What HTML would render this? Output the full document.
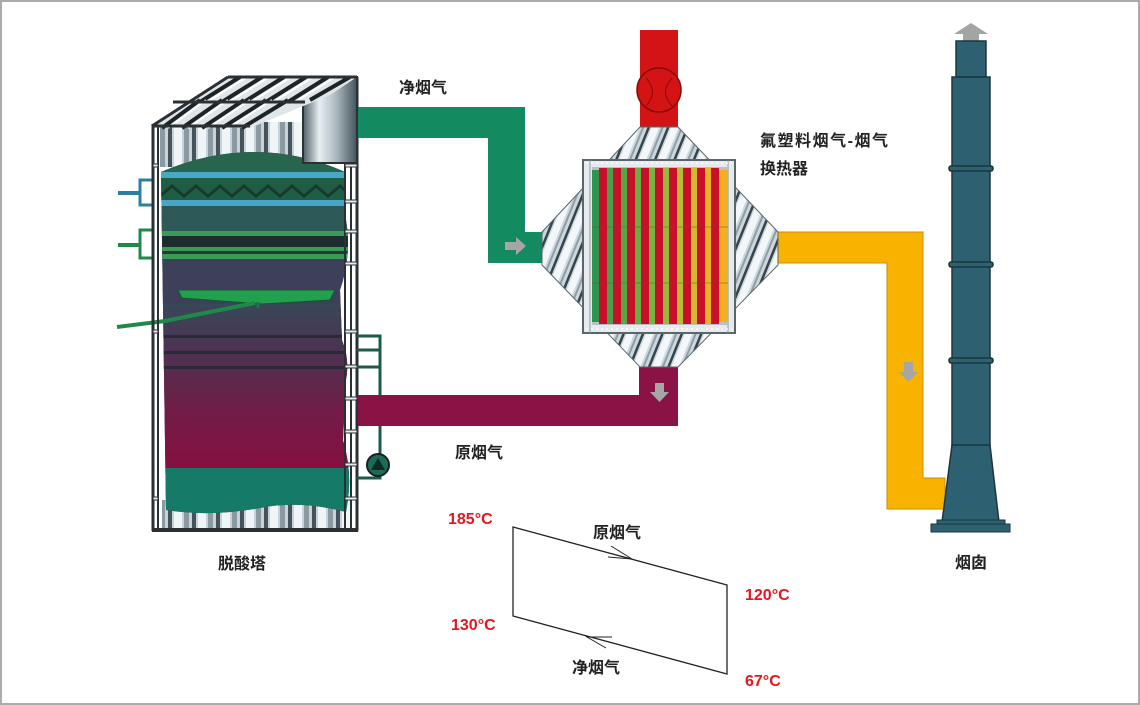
<!DOCTYPE html>
<html><head><meta charset="utf-8"><style>
html,body{margin:0;padding:0;background:#fff;}
.wrap{position:relative;width:1140px;height:705px;box-sizing:border-box;border:2px solid #ababab;overflow:hidden;background:#fff;}
svg{position:absolute;left:-2px;top:-2px;}
text{font-family:"Liberation Sans","Noto Sans CJK SC",sans-serif;font-weight:bold;}
</style></head><body><div class="wrap">
<svg width="1140" height="705" viewBox="0 0 1140 705" xmlns="http://www.w3.org/2000/svg">
<defs>
 <linearGradient id="silv" x1="0" x2="1" y1="0" y2="0">
  <stop offset="0" stop-color="#4e5e66"/><stop offset="0.3" stop-color="#e6eef2"/><stop offset="0.6" stop-color="#aebbc2"/><stop offset="1" stop-color="#44545c"/>
 </linearGradient>
 <pattern id="cyl" width="24" height="40" patternUnits="userSpaceOnUse">
  <rect width="24" height="40" fill="#c8d2d8"/><rect x="0" width="4" height="40" fill="#44545c"/><rect x="6" width="8" height="40" fill="#f0f5f7"/><rect x="16" width="5" height="40" fill="#8a9aa2"/>
 </pattern>
 <pattern id="hx" width="18" height="18" patternUnits="userSpaceOnUse" patternTransform="rotate(22)">
  <rect width="18" height="18" fill="#ccd6dc"/><rect x="0" width="2.5" height="18" fill="#34444c"/><rect x="4" width="7" height="18" fill="#f3f7f9"/><rect x="13" width="2" height="18" fill="#8e9ea6"/>
 </pattern>
 <linearGradient id="body" x1="0" x2="0" y1="0" y2="1">
  <stop offset="0" stop-color="#384858"/><stop offset="0.25" stop-color="#4a3452"/><stop offset="0.6" stop-color="#6e1e48"/><stop offset="1" stop-color="#8a0e3e"/>
 </linearGradient>
 <clipPath id="tc"><path d="M161,172 Q255,132 345,172 L346,220 Q352,255 340,290 L342,340 Q350,360 346,380 L343,440 Q352,470 348,500 L346,512 Q300,500 260,508 Q210,517 166,510 Z"/></clipPath>
</defs>

<!-- ===== Tower ===== -->
<rect x="162" y="500" width="188" height="28" fill="url(#cyl)"/>
<rect x="160" y="122" width="145" height="45" fill="url(#cyl)"/>
<g clip-path="url(#tc)">
 <rect x="150" y="130" width="210" height="390" fill="url(#body)"/>
 <rect x="150" y="130" width="210" height="130" fill="#2c5e52"/>
 <rect x="150" y="130" width="210" height="42" fill="#27654c"/>
 <rect x="150" y="172" width="210" height="6" fill="#48a8c8"/>
 <rect x="150" y="178" width="210" height="22" fill="#1f5e44"/>
 <path d="M160,196 l12,-10 l12,10 l12,-10 l12,10 l12,-10 l12,10 l12,-10 l12,10 l12,-10 l12,10 l12,-10 l12,10 l12,-10 l12,10 l12,-10 l12,10" fill="none" stroke="#173a2c" stroke-width="3"/>
 <rect x="150" y="200" width="210" height="6" fill="#4aa6c6"/>
 <rect x="150" y="206" width="210" height="26" fill="#2d5a58"/>
 <rect x="150" y="231" width="210" height="5" fill="#3a9a58"/>
 <rect x="150" y="236" width="210" height="11" fill="#1d2c2c"/>
 <rect x="150" y="247" width="210" height="4" fill="#3a9a58"/>
 <rect x="150" y="251" width="210" height="3" fill="#243a34"/>
 <rect x="150" y="254" width="210" height="5" fill="#3a9a58"/>
 <rect x="150" y="259" width="210" height="45" fill="#3e3f58"/>
 <rect x="150" y="304" width="210" height="170" fill="url(#body)"/>
 <rect x="150" y="335" width="210" height="3" fill="#2a2a36"/>
 <rect x="150" y="351" width="210" height="3" fill="#2a2a36"/>
 <rect x="150" y="366" width="210" height="3" fill="#2a2a36"/>
 <rect x="150" y="468" width="210" height="60" fill="#157a68"/>
</g>
<polygon points="178,290 335,290 330,300 262,304 182,298" fill="#22a050" stroke="#145a30" stroke-width="1"/>
<line x1="258" y1="302" x2="258" y2="308" stroke="#1a7a3a" stroke-width="3"/>
<polyline points="117,327 165,321 255,303" fill="none" stroke="#1f8a48" stroke-width="4"/>
<polyline points="118,193 140,193" stroke="#2c7fa0" stroke-width="4" fill="none"/>
<polyline points="152,180 140,180 140,205 152,205" stroke="#2c7fa0" stroke-width="3" fill="none"/>
<polyline points="118,245 140,245" stroke="#1f8a48" stroke-width="4" fill="none"/>
<polyline points="152,230 140,230 140,258 152,258" stroke="#1f8a48" stroke-width="3" fill="none"/>
<g stroke="#2a3034" fill="none">
 <line x1="153" y1="124" x2="153" y2="531" stroke-width="3"/>
 <line x1="158" y1="124" x2="158" y2="531" stroke-width="2"/>
 <line x1="345" y1="163" x2="345" y2="531" stroke-width="2"/>
 <line x1="351" y1="163" x2="351" y2="531" stroke-width="2"/>
 <line x1="357" y1="77" x2="357" y2="531" stroke-width="3"/>
 <line x1="152" y1="530" x2="358" y2="530" stroke-width="4"/>
</g>
<g fill="#e8eef0" stroke="#2a3034" stroke-width="1">
 <rect x="345" y="164" width="12" height="3"/><rect x="345" y="200" width="12" height="3"/><rect x="345" y="230" width="12" height="3"/>
 <rect x="345" y="262" width="12" height="3"/><rect x="345" y="330" width="12" height="3"/><rect x="345" y="365" width="12" height="3"/>
 <rect x="345" y="397" width="12" height="3"/><rect x="345" y="430" width="12" height="3"/><rect x="345" y="463" width="12" height="3"/>
 <rect x="345" y="497" width="12" height="3"/>
 <rect x="153" y="164" width="5" height="3"/><rect x="153" y="330" width="5" height="3"/><rect x="153" y="497" width="5" height="3"/>
</g>
<rect x="303" y="77" width="54" height="86" fill="url(#silv)" stroke="#2a3034" stroke-width="2"/>
<polygon points="152,126 228,77 357,77 330,95 250,128" fill="#dfe5e8"/>
<g stroke="#1e2326" stroke-width="4">
 <line x1="162" y1="128" x2="200" y2="100"/><line x1="182" y1="128" x2="222" y2="100"/><line x1="202" y1="128" x2="244" y2="100"/><line x1="222" y1="128" x2="266" y2="100"/><line x1="242" y1="128" x2="288" y2="100"/>
 <line x1="200" y1="102" x2="240" y2="77"/><line x1="222" y1="102" x2="262" y2="77"/><line x1="244" y1="102" x2="284" y2="77"/><line x1="266" y1="102" x2="306" y2="77"/><line x1="288" y1="102" x2="328" y2="77"/><line x1="310" y1="100" x2="350" y2="77"/>
</g>
<g stroke="#ffffff" stroke-width="2">
 <line x1="168" y1="128" x2="206" y2="100"/><line x1="188" y1="128" x2="228" y2="100"/><line x1="208" y1="128" x2="250" y2="100"/><line x1="228" y1="128" x2="272" y2="100"/>
 <line x1="207" y1="102" x2="247" y2="77"/><line x1="229" y1="102" x2="269" y2="77"/><line x1="251" y1="102" x2="291" y2="77"/><line x1="273" y1="102" x2="313" y2="77"/><line x1="295" y1="102" x2="335" y2="77"/>
</g>
<g stroke="#2a3034" stroke-width="3">
 <line x1="228" y1="77" x2="357" y2="77"/><line x1="173" y1="102" x2="305" y2="102"/><line x1="152" y1="126" x2="250" y2="126"/>
 <line x1="228" y1="77" x2="152" y2="126"/>
</g>
<g stroke="#1c5a4a" stroke-width="3" fill="none">
 <polyline points="357,336 380,336 380,478 357,478"/>
 <line x1="357" y1="350" x2="380" y2="350"/><line x1="357" y1="367" x2="380" y2="367"/>
</g>
<circle cx="378" cy="465" r="11" fill="#1c6a58" stroke="#1a1f22" stroke-width="2"/>
<polygon points="371,470 378,458 385,470" fill="#0e2a24"/>

<!-- ===== Pipes ===== -->
<path d="M358,107 H525 V263 H488 V138 H358 Z" fill="#138a60"/>
<rect x="488" y="232" width="60" height="31" fill="#138a60"/>
<polygon points="505,242 516,242 516,237 526,246 516,255 516,250 505,250" fill="#a6a6a6"/>
<path d="M358,395 H639 V367 H678 V426 H358 Z" fill="#8a1244"/>
<polygon points="655,383 664,383 664,392 669,392 659.5,402 650,392 655,392" fill="#a6a6a6"/>
<path d="M775,232 H923 V478 H945 V509 H887 V263 H775 Z" fill="#f8b200" stroke="#c89000" stroke-width="1"/>
<polygon points="904,362 913,362 913,372 918,372 908.5,382 899,372 904,372" fill="#a6a6a6"/>
<rect x="640" y="30" width="38" height="100" fill="#d41414"/>
<circle cx="659" cy="90" r="22" fill="#d41414" stroke="#8a0a0a" stroke-width="1.5"/>
<path d="M646,78 Q659,92 646,106 M672,78 Q659,92 672,106" stroke="#8a0a0a" stroke-width="1" fill="none"/>

<!-- ===== Heat exchanger ===== -->
<polygon points="640,127 678,127 778,232 778,265 678,367 640,367 542,265 542,232" fill="url(#hx)" stroke="#5a666c" stroke-width="1"/>
<rect x="583" y="160" width="152" height="173" fill="#e6eaec" stroke="#5a666c" stroke-width="2"/>
<g stroke="#8c989e" stroke-width="1">
 <line x1="590" y1="160" x2="590" y2="333"/><line x1="728" y1="160" x2="728" y2="333"/>
</g>
<rect x="592" y="167" width="136" height="158" fill="#b8c2c6"/>
<g>
 <rect x="592" y="170" width="7" height="152" fill="#2f9450"/>
 <rect x="599" y="168" width="8" height="156" fill="#c8102a"/>
 <rect x="607" y="168" width="6" height="156" fill="#4aa048"/>
 <rect x="613" y="168" width="8" height="156" fill="#c8102a"/>
 <rect x="621" y="168" width="6" height="156" fill="#58a646"/>
 <rect x="627" y="168" width="8" height="156" fill="#c8102a"/>
 <rect x="635" y="168" width="6" height="156" fill="#68ac44"/>
 <rect x="641" y="168" width="8" height="156" fill="#c8102a"/>
 <rect x="649" y="168" width="6" height="156" fill="#7ab242"/>
 <rect x="655" y="168" width="8" height="156" fill="#c8102a"/>
 <rect x="663" y="168" width="6" height="156" fill="#98b83c"/>
 <rect x="669" y="168" width="8" height="156" fill="#c8102a"/>
 <rect x="677" y="168" width="6" height="156" fill="#b6bc36"/>
 <rect x="683" y="168" width="8" height="156" fill="#c8102a"/>
 <rect x="691" y="168" width="6" height="156" fill="#d2b82e"/>
 <rect x="697" y="168" width="8" height="156" fill="#c8102a"/>
 <rect x="705" y="168" width="6" height="156" fill="#e8b226"/>
 <rect x="711" y="168" width="8" height="156" fill="#c8102a"/>
 <rect x="719" y="170" width="9" height="152" fill="#f2b020"/>
</g>
<g stroke="#6a4a30" stroke-width="0.8" opacity="0.6">
 <line x1="592" y1="227" x2="728" y2="227"/><line x1="592" y1="283" x2="728" y2="283"/>
</g>
<g stroke="#ffffff" stroke-width="1.2">
 <line x1="586" y1="163" x2="732" y2="163" stroke-dasharray="2,3"/>
 <line x1="586" y1="329" x2="732" y2="329" stroke-dasharray="2,3"/>
</g>

<!-- ===== Chimney ===== -->
<polygon points="963,34 954,34 971,23 988,34 979,34 979,42 963,42" fill="#a4a4a4"/>
<rect x="956" y="41" width="30" height="36" fill="#2d6172" stroke="#1a3640" stroke-width="1.5"/>
<rect x="952" y="77" width="38" height="370" fill="#2d6172" stroke="#1a3640" stroke-width="1.5"/>
<polygon points="952,445 990,445 999,522 942,522" fill="#2d6172" stroke="#1a3640" stroke-width="1.5"/>
<rect x="937" y="520" width="68" height="5" fill="#2d6172" stroke="#1a3640" stroke-width="1"/>
<rect x="931" y="524" width="79" height="8" fill="#2d6172" stroke="#1a3640" stroke-width="1"/>
<g fill="#2d6172" stroke="#1a3640" stroke-width="1.5">
 <rect x="949" y="166" width="44" height="5" rx="2"/>
 <rect x="949" y="262" width="44" height="5" rx="2"/>
 <rect x="949" y="358" width="44" height="5" rx="2"/>
</g>

<!-- ===== Parallelogram diagram ===== -->
<polygon points="513,527 727,585 727,674 513,616" fill="none" stroke="#222" stroke-width="1.3"/>
<polyline points="611,546 632,559 608,557" fill="none" stroke="#222" stroke-width="1"/>
<polyline points="612,637 587,637 606,648" fill="none" stroke="#222" stroke-width="1"/>

<!-- ===== Labels ===== -->
<g fill="#222" font-size="16">
 <text x="399" y="93">净烟气</text>
 <text x="760" y="146" textLength="128" lengthAdjust="spacing">氟塑料烟气-烟气</text>
 <text x="760" y="174">换热器</text>
 <text x="455" y="458">原烟气</text>
 <text x="218" y="569">脱酸塔</text>
 <text x="955" y="568">烟囱</text>
 <text x="593" y="538">原烟气</text>
 <text x="572" y="673">净烟气</text>
</g>
<g fill="#e8141e" font-size="16">
 <text x="448" y="524">185°C</text>
 <text x="745" y="600">120°C</text>
 <text x="451" y="630">130°C</text>
 <text x="745" y="686">67°C</text>
</g>
</svg>
</div></body></html>
